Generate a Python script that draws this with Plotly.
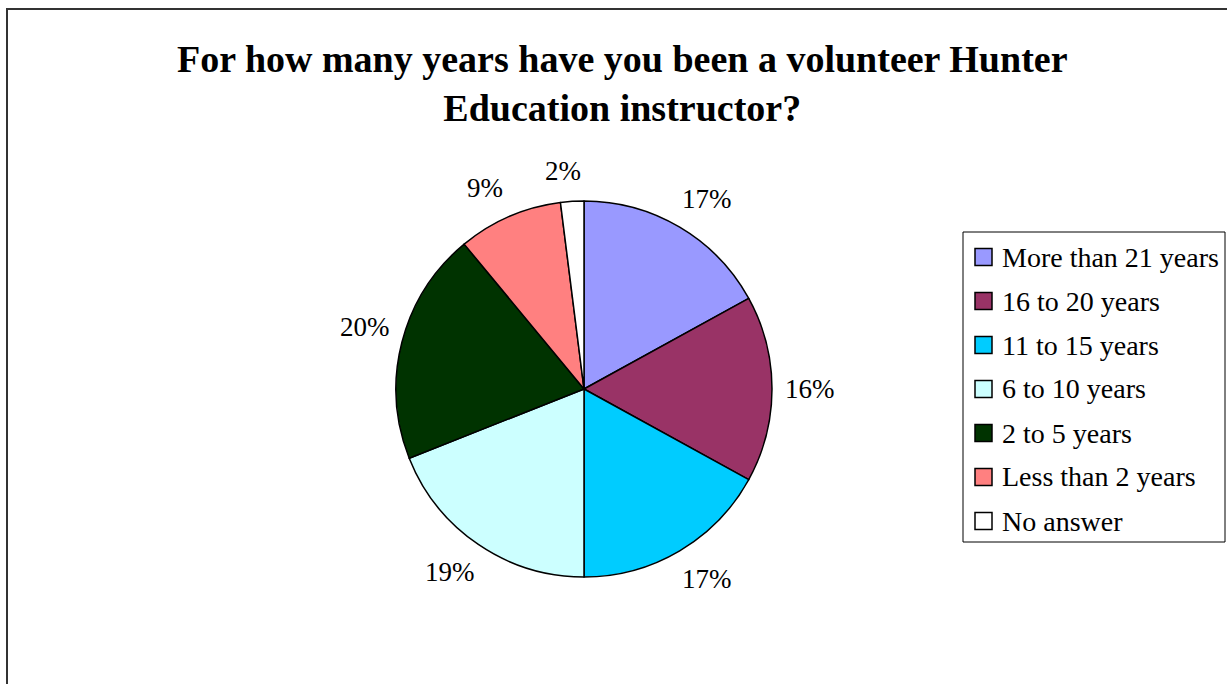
import math
import plotly.graph_objects as go

# Survey responses: years spent as a volunteer Hunter Education instructor
categories = ["More than 21 years", "16 to 20 years", "11 to 15 years",
              "6 to 10 years", "2 to 5 years", "Less than 2 years", "No answer"]
percentages = [17, 16, 17, 19, 20, 9, 2]
colors = ["#9999FF", "#993366", "#00CCFF", "#CCFFFF", "#003300", "#FF8080", "#FFFFFF"]

W, H = 1227, 684
SERIF = "Liberation Serif, Times New Roman, serif"

# Pie geometry in pixels
cx, cy, R = 584, 389, 188


def px(x):
    return x / W


def py(y):
    return 1 - y / H


def soft(v, p=0.5):
    return math.copysign(abs(v) ** p, v)


fig = go.Figure()
fig.add_trace(go.Pie(
    labels=categories,
    values=percentages,
    sort=False,
    direction="clockwise",
    rotation=0,
    textinfo="none",
    hoverinfo="label+percent",
    marker=dict(colors=colors, line=dict(color="#000000", width=1.5)),
    domain=dict(x=[px(cx - R), px(cx + R)], y=[py(cy + R), py(cy - R)]),
    showlegend=False,
))

annotations = []
# Percentage labels placed just outside each slice, pushed out by the text box size
total = sum(percentages)
cum = 0
hw, hh = 38, 30
for v in percentages:
    mid = (cum + v / 2) / total * 2 * math.pi
    cum += v
    s, c = math.sin(mid), -math.cos(mid)
    lx = cx + R * s + hw * soft(s)
    ly = cy + R * c + hh * soft(c)
    annotations.append(dict(
        x=px(lx), y=py(ly), xref="paper", yref="paper",
        text=f"{v}%", showarrow=False, xanchor="center", yanchor="middle",
        font=dict(family=SERIF, size=27, color="#000000"),
    ))

# Title
annotations.append(dict(
    x=px(622), y=py(84), xref="paper", yref="paper",
    text="<b>For how many years have you been a volunteer Hunter<br>Education instructor?</b>",
    showarrow=False, xanchor="center", yanchor="middle", align="center",
    font=dict(family=SERIF, size=38, color="#000000"),
))

shapes = [
    # Outer chart frame
    dict(type="rect", xref="paper", yref="paper",
         x0=px(7), x1=px(W + 10), y0=py(H + 10), y1=py(9),
         line=dict(color="#333333", width=2), fillcolor="rgba(0,0,0,0)"),
    # Legend box
    dict(type="rect", xref="paper", yref="paper",
         x0=px(963), x1=px(1225), y0=py(542), y1=py(232),
         line=dict(color="#000000", width=1), fillcolor="#FFFFFF"),
]

# Legend entries
row0, step = 257, 44
for i, (name, col) in enumerate(zip(categories, colors)):
    yc = row0 + i * step
    shapes.append(dict(type="rect", xref="paper", yref="paper",
                       x0=px(975), x1=px(992), y0=py(yc + 8.5), y1=py(yc - 8.5),
                       line=dict(color="#000000", width=1.5), fillcolor=col))
    annotations.append(dict(
        x=px(1000), y=py(yc), xref="paper", yref="paper",
        text=name, showarrow=False, xanchor="left", yanchor="middle",
        font=dict(family=SERIF, size=28, color="#000000"),
    ))

fig.update_layout(
    width=W, height=H,
    margin=dict(l=0, r=0, t=0, b=0),
    paper_bgcolor="#FFFFFF", plot_bgcolor="#FFFFFF",
    annotations=annotations, shapes=shapes,
)

fig.write_html("out.html")
